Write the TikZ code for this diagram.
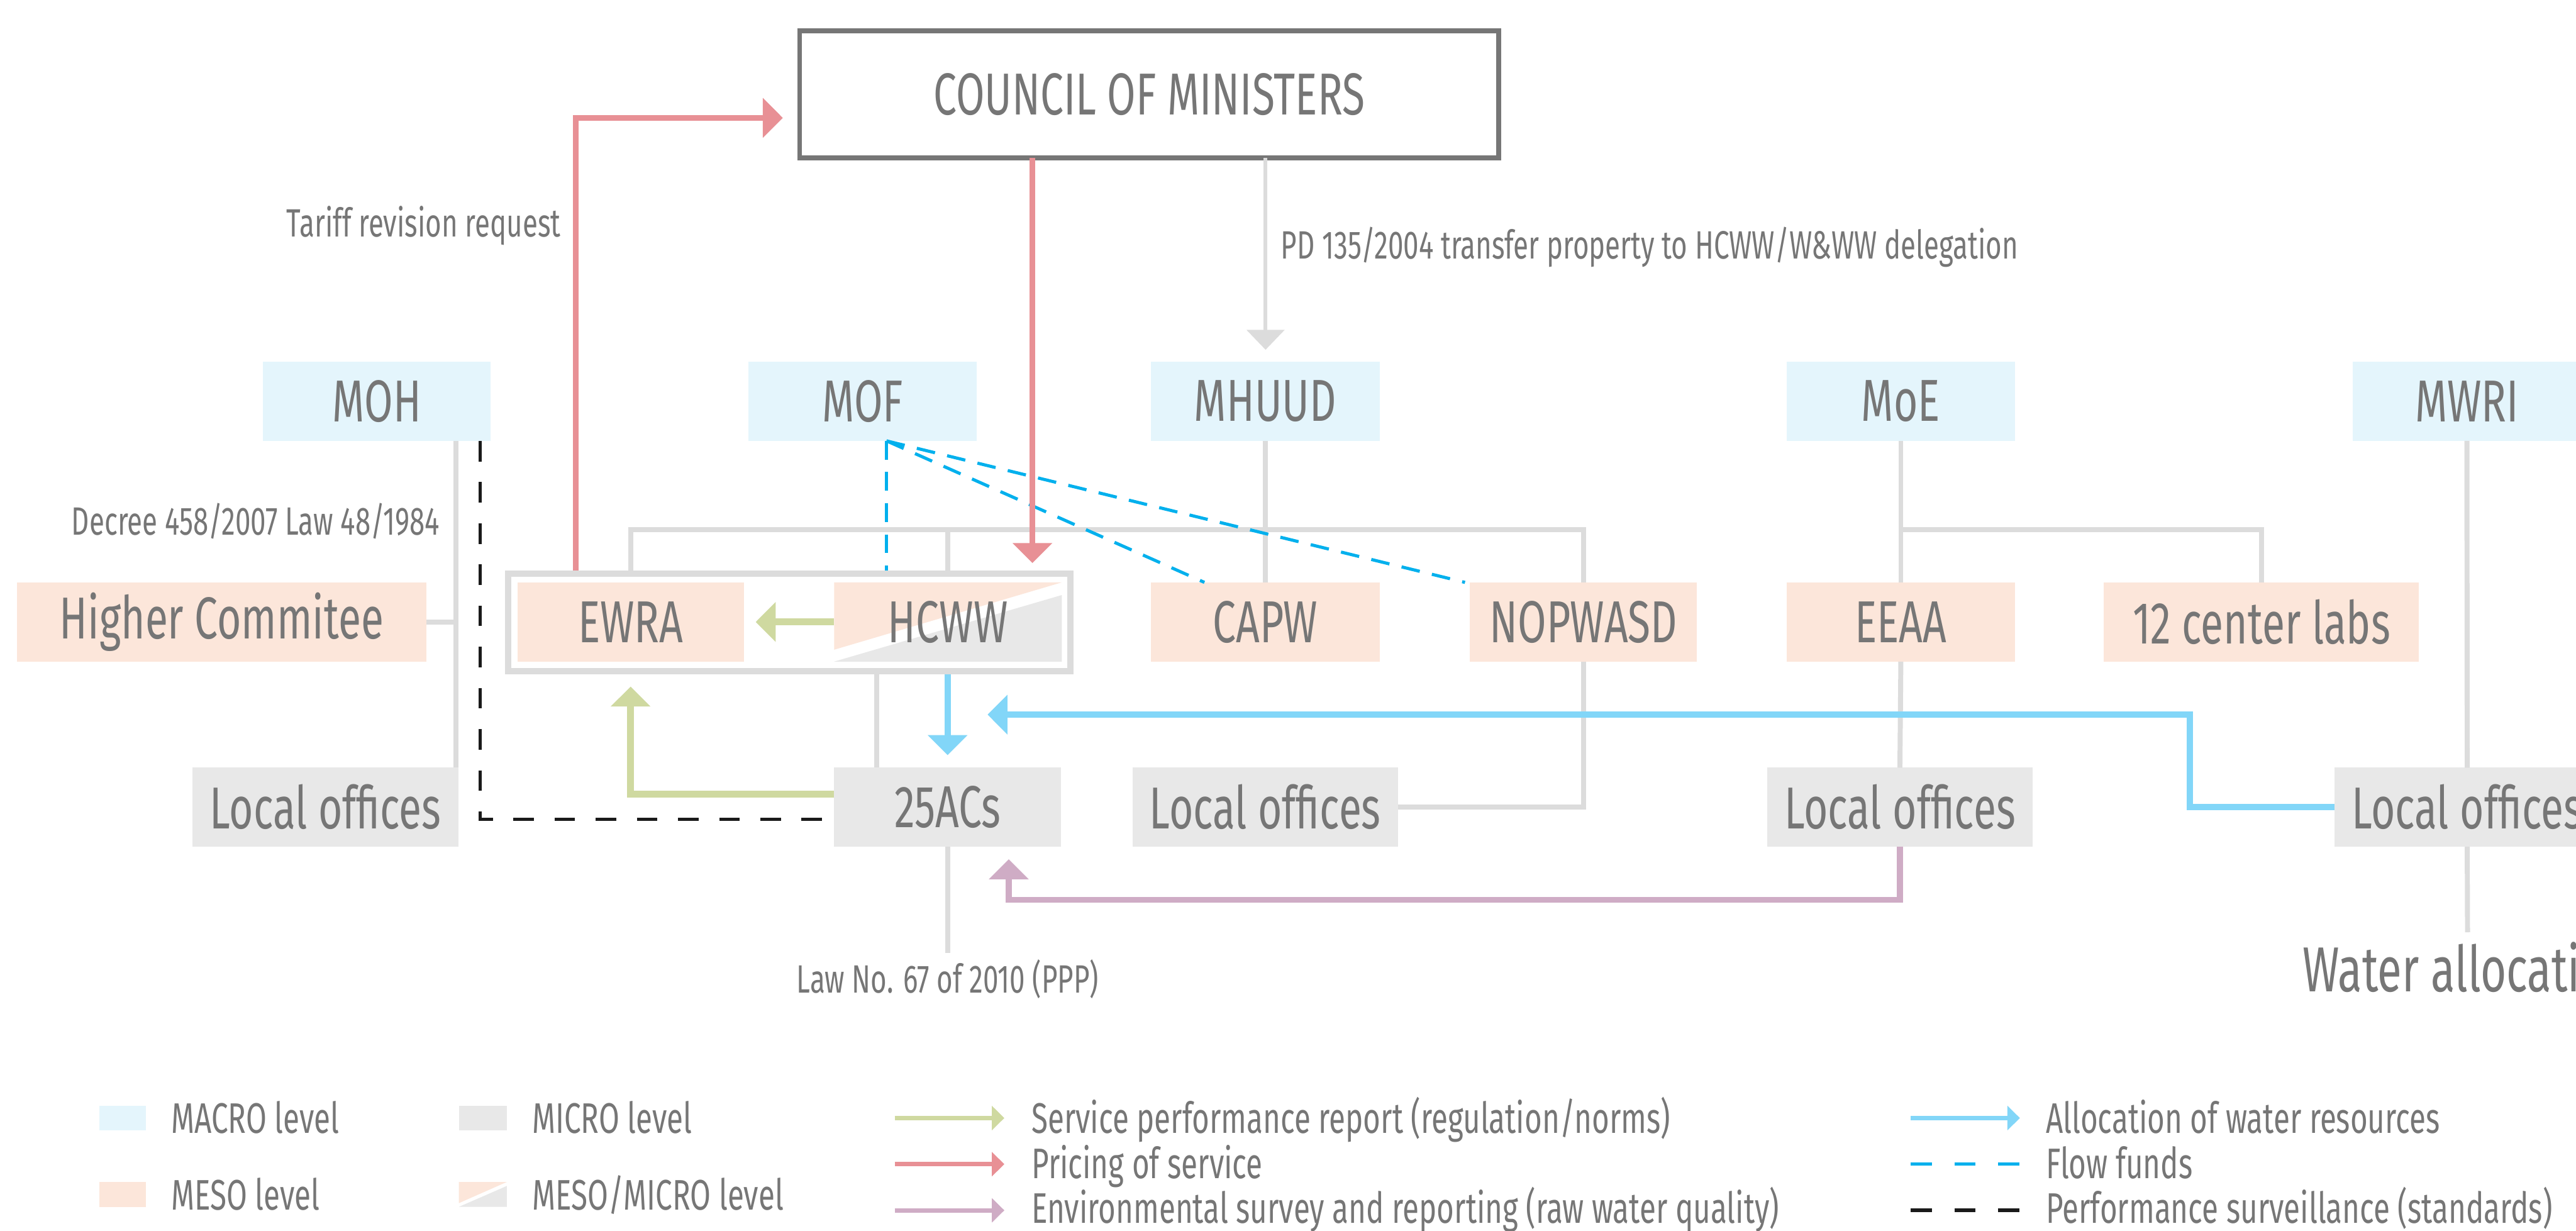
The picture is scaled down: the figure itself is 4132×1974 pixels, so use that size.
\documentclass[tikz,border=0pt]{standalone}
\usepackage{fontspec}
\setmainfont[FakeStretch=0.7]{Fira Sans}
\usetikzlibrary{arrows.meta,calc}
\definecolor{txt}{HTML}{767676}
\definecolor{macroc}{HTML}{E4F5FC}
\definecolor{mesoc}{HTML}{FCE6DA}
\definecolor{microc}{HTML}{E8E8E8}
\definecolor{linegray}{HTML}{DCDCDC}
\definecolor{redc}{HTML}{E89095}
\definecolor{greenc}{HTML}{CFD9A0}
\definecolor{bluec}{HTML}{82D6F8}
\definecolor{dblue}{HTML}{00B0ED}
\definecolor{purplec}{HTML}{CFACC5}
\definecolor{blackc}{HTML}{1A1A1A}
\tikzset{
  box/.style={inner sep=0pt, outer sep=0pt, minimum height=1.27cm, text=txt, font=\fontsize{27}{31}\selectfont},
  lvlmacro/.style={box, fill=macroc},
  lvlmeso/.style={box, fill=mesoc},
  lvlmicro/.style={box, fill=microc},
  splitfill/.style={path picture={
    \fill[mesoc] (path picture bounding box.north west) -- (path picture bounding box.north east) -- ($(path picture bounding box.north west)!0.85!(path picture bounding box.south west)$) -- cycle;
    \fill[microc] (path picture bounding box.south west) -- (path picture bounding box.south east) -- ($(path picture bounding box.north east)!0.16!(path picture bounding box.south east)$) -- cycle;}},
  lbl/.style={inner sep=0pt, text=txt, font=\fontsize{18}{21}\selectfont},
  legt/.style={inner sep=0pt, text=txt, font=\fontsize{19.5}{23}\selectfont},
  gl/.style={draw=linegray, line width=0.08cm},
  ga/.style={draw=linegray, line width=0.06cm, -{Triangle[length=0.32cm,width=0.6cm]}},
  ra/.style={draw=redc, line width=0.09cm, -{Triangle[length=0.32cm,width=0.62cm]}},
  gra/.style={draw=greenc, line width=0.11cm, -{Triangle[length=0.32cm,width=0.62cm]}},
  ba/.style={draw=bluec, line width=0.1cm, -{Triangle[length=0.32cm,width=0.62cm]}},
  pa/.style={draw=purplec, line width=0.1cm, -{Triangle[length=0.32cm,width=0.62cm]}},
  bd/.style={draw=dblue, line width=0.05cm, dash pattern=on 0.3cm off 0.2cm},
  kd/.style={draw=blackc, line width=0.055cm, dash pattern=on 0.33cm off 0.33cm},
  lgarr/.style={line width=0.07cm, -{Triangle[length=0.2cm,width=0.38cm]}},
  lgdash/.style={line width=0.055cm, dash pattern=on 0.34cm off 0.36cm},
}
\begin{document}
\begin{tikzpicture}[x=0.01cm,y=-0.01cm]
\useasboundingbox[fill=white] (0,0) rectangle (4132,1974);

% council
\node[draw=txt, line width=0.08cm, minimum width=11.21cm, minimum height=2.04cm, inner sep=0pt, outer sep=0pt, text=txt, font=\fontsize{27}{31}\selectfont] (council) at (1843.5,151) {COUNCIL OF MINISTERS};

% macro row
\node[lvlmacro, minimum width=3.65cm] (moh) at (604.5,643.5) {MOH};
\node[lvlmacro, minimum width=3.66cm] (mof) at (1384,643.5) {MOF};
\node[lvlmacro, minimum width=3.67cm] (mhuud) at (2029.5,643.5) {MHUUD};
\node[lvlmacro, minimum width=3.66cm] (moe) at (3049,643.5) {MoE};
\node[lvlmacro, minimum width=3.66cm] (mwri) at (3957,643.5) {MWRI};

% group box
\node[draw=linegray, line width=0.1cm, minimum width=9.02cm, minimum height=1.56cm, inner sep=0pt, outer sep=0.05cm] (grp) at (1266,998) {};

% meso row
\node[lvlmeso, minimum width=6.57cm] (higher) at (355.5,997.5) {Higher Commitee};
\node[lvlmeso, minimum width=3.63cm] (ewra) at (1011.5,997.5) {EWRA};
\node[box, splitfill, minimum width=3.65cm] (hcww) at (1520.5,997.5) {HCWW};
\node[lvlmeso, minimum width=3.67cm] (capw) at (2029.5,997.5) {CAPW};
\node[lvlmeso, minimum width=3.64cm] (nopwasd) at (2540,997.5) {NOPWASD};
\node[lvlmeso, minimum width=3.66cm] (eeaa) at (3049,997.5) {EEAA};
\node[lvlmeso, minimum width=5.05cm] (labs) at (3627.5,997.5) {12 center labs};

% micro row
\node[lvlmicro, minimum width=4.26cm] (lo1) at (522,1294.5) {Local offices};
\node[lvlmicro, minimum width=3.64cm] (acs) at (1520,1294.5) {25ACs};
\node[lvlmicro, minimum width=4.25cm] (lo2) at (2029.5,1294.5) {Local offices};
\node[lvlmicro, minimum width=4.25cm] (lo3) at (3047.5,1294.5) {Local offices};
\node[lvlmicro, minimum width=4.25cm] (lo4) at (3957.5,1294.5) {Local offices};

% helper coordinates
\coordinate (xA) at (731,0);
\coordinate (xB) at (1406,0);
\coordinate (xC) at (2030,0);
\coordinate (xR) at (924,0);
\coordinate (xR2) at (1656,0);
\coordinate (xM) at (1422,0);
\coordinate (xK) at (770,0);
\coordinate (xBl) at (3513,0);
\coordinate (busY) at (0,849);
\coordinate (yBl) at (0,1146);
\coordinate (pY) at (0,1443);
\coordinate (blueEnd) at (1584,1146);
\coordinate (lawEnd) at (1520,1528);
\coordinate (walEnd) at (3958,1495);
\coordinate (pX) at ([xshift=0.98cm]acs.south);

% gray structure lines
\draw[gl] (moh.south -| xA) -- (lo1.north -| xA);
\draw[gl] (higher.east) -- (higher.east -| xA);
\draw[gl] (grp.north -| ewra.north) -- (ewra.north |- busY) -- (nopwasd.north |- busY) -- (nopwasd.north);
\draw[gl] (grp.north -| hcww.north) -- (hcww.north |- busY);
\draw[gl] (mhuud.south) -- (capw.north);
\draw[gl] (nopwasd.south) |- (lo2.east);
\draw[gl] (grp.south -| xB) -- (acs.north -| xB);
\draw[gl] (acs.south) -- (lawEnd);
\draw[gl] (moe.south) -- (eeaa.north);
\draw[gl] (moe.south |- busY) -| (labs.north);
\draw[gl] (eeaa.south) -- (lo3.north);
\draw[gl] (mwri.south) -- (lo4.north);
\draw[gl] (lo4.south) -- (walEnd);

% gray arrow
\draw[ga, shorten >=0.19cm] (council.south -| xC) -- (mhuud.north -| xC);

% dashed flows
\draw[bd] (mof.south -| xM) -- (grp.north -| xM);
\draw[bd] (mof.south -| xM) -- ([xshift=0.86cm]capw.north west);
\draw[bd] (mof.south -| xM) -- ([xshift=-0.08cm]nopwasd.north west);
\draw[kd] (moh.south -| xK) |- ([yshift=-0.195cm]acs.west);

% red
\draw[ra, shorten >=0.27cm] (grp.north -| xR) |- ([yshift=-0.38cm]council.west);
\draw[ra, shorten >=0.12cm] (council.south -| xR2) -- (grp.north -| xR2);

% green
\draw[gra, shorten >=0.19cm] (hcww.west) -- (ewra.east);
\draw[gra, shorten >=0.2cm] ([yshift=0.205cm]acs.west) -| (grp.south -| ewra.south);

% blue
\draw[ba, shorten >=0.2cm] (grp.south -| acs.north) -- (acs.north);
\draw[ba] (lo4.west) -- (lo4.west -| xBl) -- (xBl |- yBl) -- (blueEnd);

% purple
\draw[pa, shorten >=0.2cm] (lo3.south) -- (lo3.south |- pY) -- (pX |- pY) -- (pX);

% labels
\node[lbl, anchor=base east] (tariff) at (900,380) {Tariff revision request};
\node[lbl, anchor=base west] (pd) at (2054,415) {PD 135/2004 transfer property to HCWW/W\&WW delegation};
\node[lbl, anchor=base east] (decree) at (706,858) {Decree 458/2007 Law 48/1984};
\node[lbl, anchor=base] (law) at (1520,1592) {Law No. 67 of 2010 (PPP)};
\node[inner sep=0pt, text=txt, font=\fontsize{29}{33}\selectfont, anchor=base] (wal) at (3958,1590) {Water allocation};

% legend boxes
\node[lvlmacro, minimum width=0.75cm, minimum height=0.4cm] (lgmacro) at (196.5,1793) {};
\node[lvlmicro, minimum width=0.77cm, minimum height=0.4cm] (lgmicro) at (774.5,1793) {};
\node[lvlmeso, minimum width=0.75cm, minimum height=0.4cm] (lgmeso) at (196.5,1915.5) {};
\node[box, splitfill, minimum width=0.77cm, minimum height=0.4cm] (lgmm) at (774.5,1915.5) {};
\node[legt, anchor=base west] (lgmacrot) at (274,1817) {MACRO level};
\node[legt, anchor=base west] (lgmicrot) at (853,1817) {MICRO level};
\node[legt, anchor=base west] (lgmesot) at (274,1940) {MESO level};
\node[legt, anchor=base west] (lgmmt) at (853,1940) {MESO/MICRO level};

% legend arrows
\coordinate (la1) at (1435,1793); \coordinate (lb1) at (1611,1793);
\coordinate (la2) at (1435,1867); \coordinate (lb2) at (1611,1867);
\coordinate (la3) at (1435,1941); \coordinate (lb3) at (1611,1941);
\coordinate (la4) at (3065,1793); \coordinate (lb4) at (3240,1793);
\coordinate (la5) at (3065,1867); \coordinate (lb5) at (3240,1867);
\coordinate (la6) at (3065,1941); \coordinate (lb6) at (3240,1941);
\draw[lgarr, draw=greenc] (la1) -- (lb1);
\draw[lgarr, draw=redc] (la2) -- (lb2);
\draw[lgarr, draw=purplec] (la3) -- (lb3);
\draw[lgarr, draw=bluec] (la4) -- (lb4);
\draw[lgdash, draw=dblue] (la5) -- (lb5);
\draw[lgdash, draw=blackc] (la6) -- (lb6);
\node[legt, anchor=base west] (lt1) at (1654,1817) {Service performance report (regulation/norms)};
\node[legt, anchor=base west] (lt2) at (1654,1890) {Pricing of service};
\node[legt, anchor=base west] (lt3) at (1654,1962) {Environmental survey and reporting (raw water quality)};
\node[legt, anchor=base west] (lt4) at (3281,1817) {Allocation of water resources};
\node[legt, anchor=base west] (lt5) at (3281,1890) {Flow funds};
\node[legt, anchor=base west] (lt6) at (3281,1962) {Performance surveillance (standards)};
\end{tikzpicture}
\end{document}
